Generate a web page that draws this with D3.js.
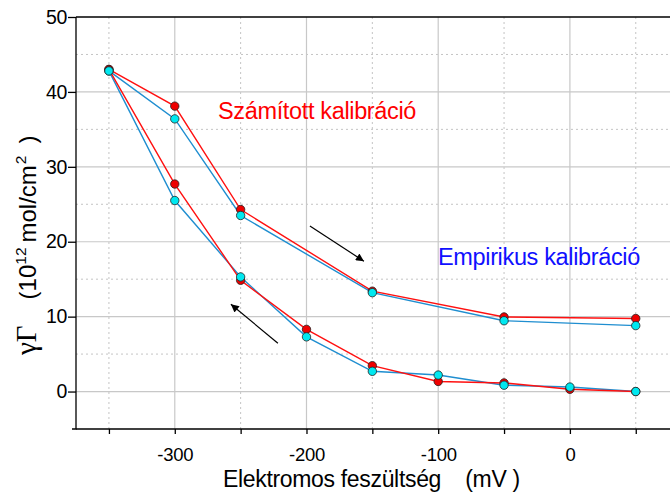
<!DOCTYPE html>
<html><head><meta charset="utf-8">
<script src="https://cdn.jsdelivr.net/npm/d3@7"></script>
<style>
html,body{margin:0;padding:0;background:#fff;}
text{font-family:"Liberation Sans",Arial,sans-serif;}
</style></head>
<body>
<svg id="chart" width="670" height="493"></svg>
<script>
// Forward (upper) branch potentials & reverse (lower) branch potentials (mV)
const upperX = [-350, -300, -250, -150, -50, 50];
const lowerX = [50, 0, -50, -100, -150, -200, -250, -300, -350];
// Calculated calibration (red)
const calcUpper = [43.0, 38.1, 24.3, 13.4, 9.95, 9.75];
const calcLower = [0.0, 0.3, 1.15, 1.35, 3.45, 8.3, 14.85, 27.7, 43.0];
// Empirical calibration (cyan/blue)
const empUpper = [42.8, 36.4, 23.5, 13.2, 9.45, 8.8];
const empLower = [0.0, 0.6, 0.85, 2.2, 2.7, 7.3, 15.3, 25.5, 42.8];
// Tick labels
const xTickLabels = [-300, -200, -100, 0];
const yTickLabels = [0, 10, 20, 30, 40, 50];
// Arrows (data coords) [x1,y1,x2,y2]
const arrowFwd = [-197.4, 22.1, -156.4, 17.4];
const arrowRev = [-221.7, 6.45, -257.4, 11.65];

const svg = d3.select("#chart");
const L = 76, R = 670, T = 17, B = 429;
const x = d3.scaleLinear().domain([-375, 76]).range([L, R]);
const y = d3.scaleLinear().domain([-5, 50]).range([B, T]);

// grid
const g = svg.append("g");
const minorX = d3.range(-350, 76, 100);
const majorX = d3.range(-300, 76, 100);
const minorY = d3.range(5, 50, 10);
const majorY = d3.range(0, 50, 10);
g.selectAll(".mx").data(minorX).join("line")
  .attr("x1", d => x(d)).attr("x2", d => x(d)).attr("y1", T).attr("y2", B)
  .attr("stroke", "#c4c4c4").attr("stroke-width", 1).attr("stroke-dasharray", "2,3");
g.selectAll(".my").data(minorY).join("line")
  .attr("x1", L).attr("x2", R).attr("y1", d => y(d)).attr("y2", d => y(d))
  .attr("stroke", "#c4c4c4").attr("stroke-width", 1).attr("stroke-dasharray", "2,3");
g.selectAll(".Mx").data(majorX).join("line")
  .attr("x1", d => x(d)).attr("x2", d => x(d)).attr("y1", T).attr("y2", B)
  .attr("stroke", "#c8c8c8").attr("stroke-width", 1.2);
g.selectAll(".My").data(majorY).join("line")
  .attr("x1", L).attr("x2", R).attr("y1", d => y(d)).attr("y2", d => y(d))
  .attr("stroke", "#c8c8c8").attr("stroke-width", 1.2);

// axes
const xAxis = d3.axisBottom(x).tickValues(d3.range(-350, 76, 50)).tickSize(5)
  .tickFormat(d => xTickLabels.includes(d) ? String(d) : "");
const xa = svg.append("g").attr("transform", `translate(0,${B})`).call(xAxis);
xa.select(".domain").attr("d", `M${L},0H${R}`).attr("stroke", "#000").attr("stroke-width", 1.3);
xa.selectAll("text").attr("font-size", 18.5).attr("fill", "#000").attr("dy", "1.3em")
  .attr("font-family", "'Liberation Sans',Arial,sans-serif").attr("letter-spacing", -0.3);
xa.selectAll(".tick line").attr("stroke", "#000").attr("stroke-width", 1.3);

const yAxis = d3.axisLeft(y).tickValues(yTickLabels).tickSize(8).tickPadding(1);
const ya = svg.append("g").attr("transform", `translate(${L},0)`).call(yAxis);
ya.select(".domain").attr("d", `M0,${T}V${B}H-4`).attr("stroke", "#000").attr("stroke-width", 1.3);
ya.selectAll("text").attr("font-size", 19.5).attr("fill", "#000")
  .attr("font-family", "'Liberation Sans',Arial,sans-serif").attr("letter-spacing", -0.4);
ya.selectAll(".tick line").attr("stroke", "#000").attr("stroke-width", 1.3);
// top frame line
svg.append("line").attr("x1", L).attr("x2", R).attr("y1", T).attr("y2", T)
  .attr("stroke", "#000").attr("stroke-width", 1.5);

// lines
const line = d3.line().x(d => x(d[0])).y(d => y(d[1]));
const zip = (xs, ys) => xs.map((v, i) => [v, ys[i]]);
const series = [
  {up: zip(upperX, empUpper), lo: zip(lowerX, empLower), line: "#1f8ed0", fill: "#00e8f0"},
  {up: zip(upperX, calcUpper), lo: zip(lowerX, calcLower), line: "#ff1010", fill: "#ee0000"}
];
series.forEach(s => {
  [s.up, s.lo].forEach(pts => {
    svg.append("path").attr("d", line(pts)).attr("fill", "none")
      .attr("stroke", s.line).attr("stroke-width", 1.4);
  });
});
[series[1], series[0]].forEach(s => {
  svg.append("g").selectAll("circle").data(s.up.concat(s.lo)).join("circle")
    .attr("cx", d => x(d[0])).attr("cy", d => y(d[1])).attr("r", 4.2)
    .attr("fill", s.fill).attr("stroke", "#222").attr("stroke-width", 0.8);
});

// arrows
const defs = svg.append("defs");
defs.append("marker").attr("id", "ah").attr("viewBox", "0 0 10 10")
  .attr("refX", 10).attr("refY", 5).attr("markerWidth", 14).attr("markerHeight", 8)
  .attr("markerUnits", "userSpaceOnUse").attr("orient", "auto")
  .append("path").attr("d", "M0,0L10,5L0,10z").attr("fill", "#000");
[arrowFwd, arrowRev].forEach(a => {
  svg.append("line").attr("x1", x(a[0])).attr("y1", y(a[1])).attr("x2", x(a[2])).attr("y2", y(a[3]))
    .attr("stroke", "#000").attr("stroke-width", 1.2).attr("marker-end", "url(#ah)");
});

// labels
svg.append("text").attr("x", 218).attr("y", 119).attr("fill", "#ff0000")
  .attr("font-size", 23.5).attr("letter-spacing", -0.35).text("Számított kalibráció");
svg.append("text").attr("x", 438).attr("y", 265).attr("fill", "#1010ff")
  .attr("font-size", 23.5).attr("letter-spacing", -0.35).text("Empirikus kalibráció");

svg.append("text").attr("x", 223).attr("y", 487).attr("font-size", 23).attr("letter-spacing", -0.33)
  .attr("fill", "#000").style("white-space", "pre").text("Elektromos feszültség    (mV )");

const yl = svg.append("text").attr("transform", "translate(36,355) rotate(-90)")
  .attr("font-size", 24).attr("fill", "#000");
yl.append("tspan").attr("font-family", "'Liberation Serif','Times New Roman',serif").attr("font-size", 29).text("γΓ");
yl.append("tspan").attr("dx", 26).text("(10");
yl.append("tspan").attr("font-size", 15.5).attr("dy", -10).text("12");
yl.append("tspan").attr("dy", 10).attr("dx", 5).text("mol/cm");
yl.append("tspan").attr("font-size", 15.5).attr("dy", -10).attr("dx", 1).text("2");
yl.append("tspan").attr("dy", 10).attr("dx", 12).text(")");
</script>
</body></html>
